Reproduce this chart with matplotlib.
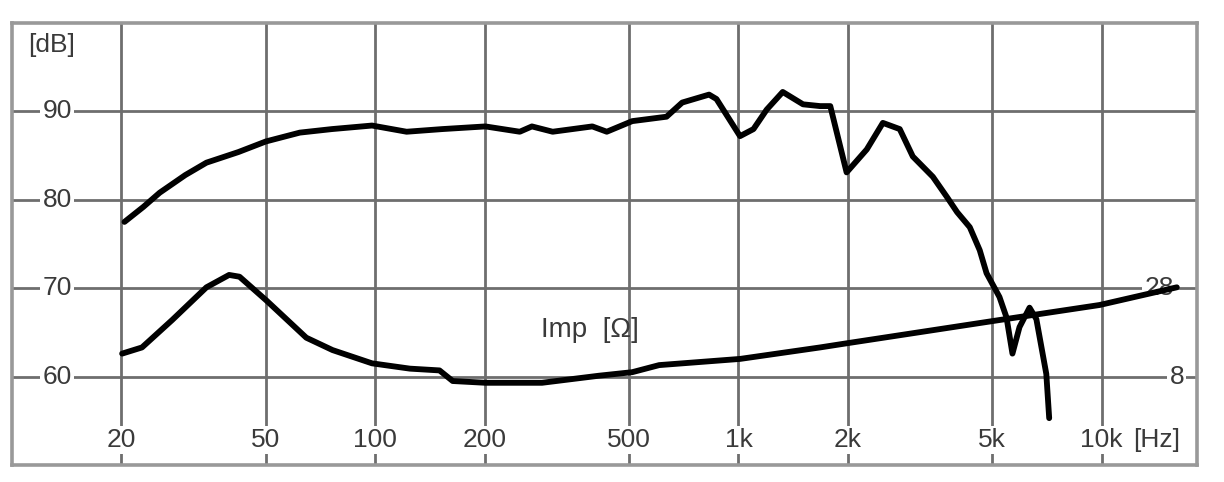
import matplotlib
matplotlib.use("Agg")
import matplotlib.pyplot as plt
import matplotlib.transforms as mtransforms

# SPL response (frequency in Hz, level in dB)
spl_freq = [20.4, 23, 25.5, 30, 34.3, 42, 50, 62, 76, 98, 122, 153, 201, 250, 270,
            308, 396, 434, 510, 634, 700, 830, 870, 1010, 1100, 1196, 1324, 1506,
            1678, 1790, 1985, 2256, 2498, 2780, 3020, 3430, 3752, 4000, 4334, 4616,
            4820, 5232, 5470, 5680, 5940, 6330, 6610, 7040, 7170]
spl_db = [77.5, 79.2, 80.8, 82.8, 84.2, 85.4, 86.6, 87.6, 88.0, 88.4, 87.7, 88.0,
          88.3, 87.7, 88.3, 87.7, 88.3, 87.7, 88.9, 89.4, 91.0, 91.9, 91.4, 87.2,
          88.0, 90.2, 92.2, 90.8, 90.6, 90.6, 83.1, 85.7, 88.7, 88.0, 84.9, 82.6,
          80.3, 78.6, 76.9, 74.3, 71.7, 69.0, 66.7, 62.6, 65.6, 67.8, 66.5, 60.3, 55.3]

# Impedance (frequency in Hz, ohm)
imp_freq = [20.1, 22.8, 27.6, 34.3, 39.6, 42.3, 50.2, 64.6, 76.3, 98, 124.6, 150.3,
            163.4, 201, 287.8, 413, 510, 605, 1010, 1678, 2010, 5232, 9870, 12300, 16100]
imp_ohm = [13.2, 14.6, 20.8, 28.2, 31.0, 30.6, 25.2, 16.8, 14.0, 11.0, 9.8, 9.4,
           7.0, 6.6, 6.6, 8.2, 9.0, 10.6, 12.0, 14.6, 15.6, 20.8, 24.2, 26.0, 28.2]

x_ticks = [20, 50, 100, 200, 500, 1000, 2000, 5000, 10000]
x_labels = ["20", "50", "100", "200", "500", "1k", "2k", "5k", "10k"]
y_ticks = [60, 70, 80, 90]
imp_ticks = [8, 28]

plt.rcParams['font.family'] = ['Liberation Sans', 'DejaVu Sans']

fig = plt.figure(figsize=(12.24, 4.82), dpi=100)
ax = fig.add_axes([12 / 1224, 17 / 482, 1185 / 1224, 442 / 482])
ax.set_xscale("log")
ax.set_xlim(10, 18300)
ax.set_ylim(50, 100)

# grid
grid_col = "#6e6e6e"
for f in x_ticks:
    ax.axvline(f, color=grid_col, lw=2.0, zorder=1)
for v in y_ticks:
    ax.axhline(v, color=grid_col, lw=2.0, zorder=1)
ax.set_xticks([])
ax.set_yticks([])
ax.minorticks_off()
for s in ax.spines.values():
    s.set_color("#999999")
    s.set_linewidth(2.6)

txt_col = "#3a3a3a"
box = dict(facecolor="white", edgecolor="none", pad=1.5)
fs = 19

# x labels
for f, lab in zip(x_ticks, x_labels):
    ax.text(f, 52.8, lab, ha="center", va="center", fontsize=fs, color=txt_col,
            bbox=box, zorder=3)
blend_x = mtransforms.blended_transform_factory(ax.transAxes, ax.transData)
ax.text(0.966, 52.8, "[Hz]", transform=blend_x, ha="center", va="center",
        fontsize=fs, color=txt_col, bbox=box, zorder=3)

# dB labels
for v in y_ticks:
    ax.text(0.038, v, str(v), transform=blend_x, ha="center", va="center",
            fontsize=fs, color=txt_col, bbox=box, zorder=3)
ax.text(0.033, 0.95, "[dB]", transform=ax.transAxes, ha="center", va="center",
        fontsize=fs, color=txt_col, zorder=3)

# SPL curve
ax.plot(spl_freq, spl_db, color="black", lw=4.2, solid_joinstyle="round",
        solid_capstyle="round", zorder=5)

# impedance on secondary scale (8 ohm on the 60 dB line, 28 ohm on 70 dB)
ax2 = ax.twinx()
ax2.set_ylim(-12, 88)
ax2.set_yticks([])
for s in ax2.spines.values():
    s.set_visible(False)
ax2.plot(imp_freq, imp_ohm, color="black", lw=4.2, solid_joinstyle="round",
         solid_capstyle="round", zorder=5)
blend_x2 = mtransforms.blended_transform_factory(ax2.transAxes, ax2.transData)
ax2.text(0.968, imp_ticks[1], str(imp_ticks[1]), transform=blend_x2, ha="center",
         va="center", fontsize=fs, color=txt_col, bbox=box, zorder=3)
ax2.text(0.983, imp_ticks[0], str(imp_ticks[0]), transform=blend_x2, ha="center",
         va="center", fontsize=fs, color=txt_col, bbox=box, zorder=3)
ax2.text(0.488, 0.305, "Imp  [\u03a9]", transform=ax2.transAxes, ha="center",
         va="center", fontsize=20, color=txt_col, zorder=3)

fig.savefig("out.png", dpi=100, facecolor="white")
